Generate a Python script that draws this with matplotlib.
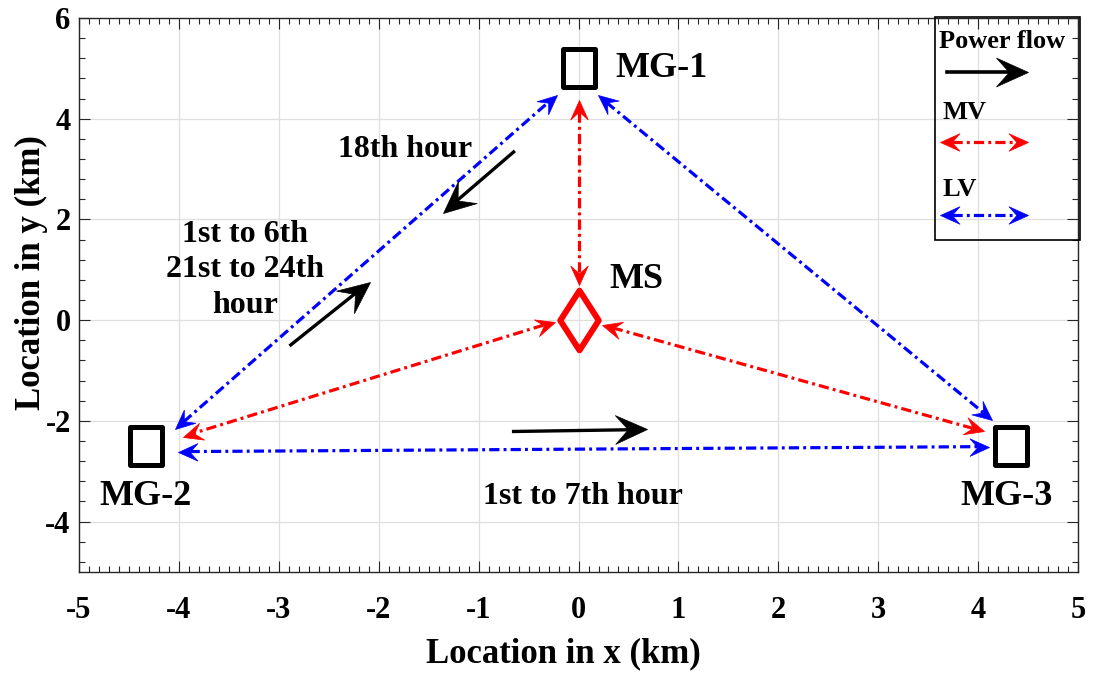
import numpy as np
import matplotlib.pyplot as plt
from matplotlib.path import Path
from matplotlib.markers import MarkerStyle
from matplotlib.transforms import Affine2D
from matplotlib.patches import Rectangle
from matplotlib.ticker import MultipleLocator

plt.rcParams['font.family'] = ['Liberation Serif', 'DejaVu Serif']
plt.rcParams['font.weight'] = 'bold'
plt.rcParams['axes.unicode_minus'] = False

# microgrid and main station locations (km)
mg_names = ['MG-1', 'MG-2', 'MG-3']
mg_x = [0.0, -4.33, 4.33]
mg_y = [5.0, -2.5, -2.5]
mg_label_x = [0.83, -4.33, 4.28]
mg_label_y = [5.0, -3.5, -3.5]
ms_x, ms_y = 0.0, 0.0

# feeder links (x0, y0, x1, y1)
mv_links = [(0.0, 4.37, 0.0, 0.70),
            (-0.24, -0.03, -3.96, -2.31),
            (0.23, -0.09, 4.06, -2.21)]
lv_links = [(-4.04, -2.17, -0.22, 4.47),
            (0.19, 4.47, 4.14, -1.98),
            (-4.01, -2.61, 4.11, -2.51)]

# power flow directions and the hours they apply to
flow_arrows = [(-0.65, 3.34, -1.36, 2.13),
               (-2.88, -0.49, -2.09, 0.76),
               (-0.65, -2.21, 0.69, -2.17)]
flow_labels = ['18th hour', '1st to 6th\n21st to 24th\nhour', '1st to 7th hour']
flow_label_x = [-1.74, -3.34, 0.04]
flow_label_y = [3.38, 1.0, -3.5]

fig = plt.figure(figsize=(10.93, 6.75), dpi=100)
ax = fig.add_axes([0.0723, 0.1526, 0.914, 0.8207])
ax.set_xlim(-5, 5)
ax.set_ylim(-5, 6)

HEAD = Path([(0, 0), (-1, 0.45), (-0.6, 0), (-1, -0.45), (0, 0)],
            [Path.MOVETO, Path.LINETO, Path.LINETO, Path.LINETO, Path.CLOSEPOLY])


def head(x, y, ang, color, size, trans):
    m = MarkerStyle(HEAD, transform=Affine2D().rotate_deg(ang))
    ax.plot([x], [y], ls='none', marker=m, ms=size, color=color, mec=color,
            mew=0.5, transform=trans, clip_on=False, zorder=5)


def arrow(x0, y0, x1, y1, color, both=False, dashed=False, trans=None,
          size=28, lw=2.3):
    trans = trans or ax.transData
    p0 = trans.transform((x0, y0))
    p1 = trans.transform((x1, y1))
    d = p1 - p0
    ang = np.degrees(np.arctan2(d[1], d[0]))
    u = d / np.hypot(*d)
    back = 0.5 * size / 0.72 * 0.6
    q1 = p1 - u * back
    q0 = p0 + u * back if both else p0
    (a0, b0), (a1, b1) = trans.inverted().transform([q0, q1])
    kw = dict(dashes=(3.2, 1.3, 0.9, 1.3)) if dashed else dict(ls='-')
    ax.plot([a0, a1], [b0, b1], color=color, lw=lw, transform=trans,
            clip_on=False, zorder=4, **kw)
    head(x1, y1, ang, color, size, trans)
    if both:
        head(x0, y0, ang + 180, color, size, trans)


for x0, y0, x1, y1 in mv_links:
    arrow(x0, y0, x1, y1, 'red', both=True, dashed=True)
for x0, y0, x1, y1 in lv_links:
    arrow(x0, y0, x1, y1, 'blue', both=True, dashed=True)
for x0, y0, x1, y1 in flow_arrows:
    arrow(x0, y0, x1, y1, 'black', size=46, lw=2.4)

# microgrid squares and main station diamond
square = Path([(-0.415, -0.5), (0.415, -0.5), (0.415, 0.5), (-0.415, 0.5), (-0.415, -0.5)],
              [Path.MOVETO, Path.LINETO, Path.LINETO, Path.LINETO, Path.CLOSEPOLY])
diamond = Path([(0, 0.5), (0.322, 0), (0, -0.5), (-0.322, 0), (0, 0.5)],
               [Path.MOVETO, Path.LINETO, Path.LINETO, Path.LINETO, Path.CLOSEPOLY])
ax.plot(mg_x, mg_y, ls='none', marker=MarkerStyle(square, joinstyle='miter'),
        ms=27, mfc='none', mec='black', mew=3.6, zorder=6)
ax.plot([ms_x], [ms_y], ls='none', marker=MarkerStyle(diamond, joinstyle='miter'),
        ms=43, mfc='none', mec='red', mew=4.3, zorder=6)

for name, x, y in zip(mg_names, mg_label_x, mg_label_y):
    ax.text(x, y, name, ha='center', va='center', fontsize=26)
ax.text(0.58, 0.8, 'MS', ha='center', va='center', fontsize=26)

for lab, x, y in zip(flow_labels, flow_label_x, flow_label_y):
    ax.text(x, y, lab, ha='center', va='center', fontsize=23, linespacing=1.3)

# legend box drawn by hand
ax.add_patch(Rectangle((0.857, 0.599), 0.145, 0.403, transform=ax.transAxes,
                       fill=False, ec='black', lw=1.2, clip_on=False, zorder=7))
ax.text(0.924, 0.957, 'Power flow', transform=ax.transAxes, ha='center',
        va='center', fontsize=19)
arrow(0.869, 0.903, 0.950, 0.903, 'black', trans=ax.transAxes, size=46, lw=2.6)
ax.text(0.864, 0.829, 'MV', transform=ax.transAxes, ha='left', va='center', fontsize=19)
arrow(0.862, 0.776, 0.950, 0.776, 'red', both=True, dashed=True, trans=ax.transAxes)
ax.text(0.864, 0.690, 'LV', transform=ax.transAxes, ha='left', va='center', fontsize=19)
arrow(0.862, 0.644, 0.950, 0.644, 'blue', both=True, dashed=True, trans=ax.transAxes)

ax.set_xticks(np.arange(-5, 6, 1))
ax.set_yticks(np.arange(-4, 7, 2))
ax.xaxis.set_minor_locator(MultipleLocator(0.1))
ax.yaxis.set_minor_locator(MultipleLocator(0.4))
ax.tick_params(which='both', direction='in', top=True, right=True, colors='#262626',
               labelcolor='black', labelsize=22)
ax.tick_params(which='major', length=8, width=0.8)
ax.tick_params(which='minor', length=4, width=0.8)
ax.tick_params(axis='x', which='major', pad=17)
ax.tick_params(axis='y', which='major', pad=6)
for s in ax.spines.values():
    s.set_color('#262626')
    s.set_linewidth(1.0)
ax.grid(True, color='#dfdfdf', lw=0.9)
ax.set_axisbelow(True)

ax.set_xlabel('Location in x (km)', fontsize=25, fontweight='bold')
ax.set_ylabel('Location in y (km)', fontsize=25, fontweight='bold')
ax.xaxis.set_label_coords(0.485, -0.118)
ax.yaxis.set_label_coords(-0.031, 0.54)

fig.savefig('out.png', dpi=100)
